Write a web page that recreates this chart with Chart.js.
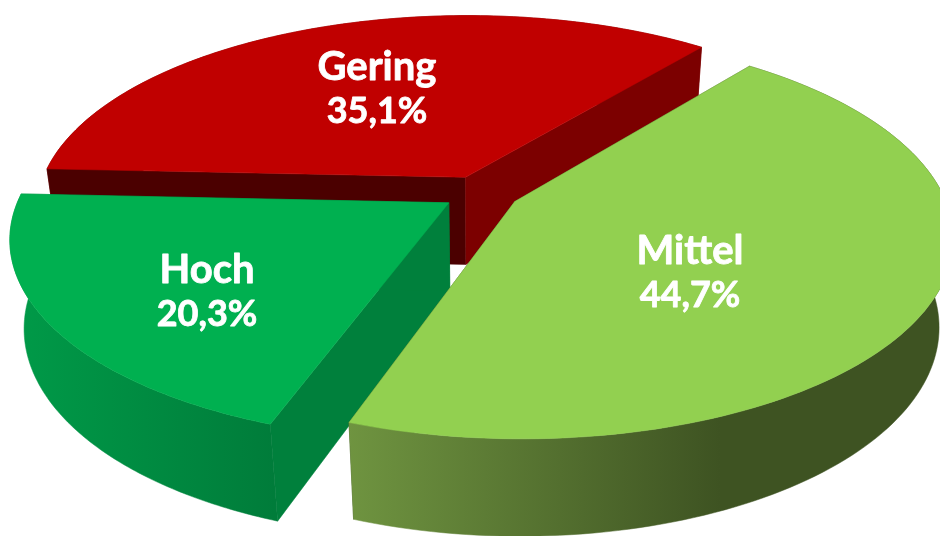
<!DOCTYPE html>
<html><head><meta charset="utf-8">
<style>html,body{margin:0;padding:0;background:#fff;overflow:hidden}canvas{display:block}</style>
<script src="https://cdn.jsdelivr.net/npm/chart.js@4"></script></head>
<body><canvas id="c" width="940" height="536"></canvas>
<script>
const categories = ['Gering', 'Mittel', 'Hoch'];
const shares = [35.1, 44.7, 20.3];

const topColors = ['#C00000', '#92D050', '#00B050'];
const startWallColors = ['#4B0000', '#3D5323', '#00803C'];
const endWallColors = ['#7C0000', '#3D5323', '#00803C'];
const outerWallStops = [
  [[0, '#7C0000'], [1, '#7C0000']],
  [[0, '#6F9440'], [1, '#3E5322']],
  [[0, '#009A48'], [1, '#007C3A']]
];
const outerWallSpan = [[48, 705], [348, 720], [15, 275]];
const paintOrder = [0, 2, 1];
const labelCentres = [[377, 89], [690, 273], [207, 292]];
const view = {cx: 481, cy: 193, R: 428, k: 194, depth: 90.5, p: 0.169, q: 0.03};

function project(el, angle, r, z) {
  const mid = (el.startAngle + el.endAngle) / 2;
  const off = (el.options.offset || 0) / el.outerRadius;
  const u = Math.cos(angle) * r + Math.cos(mid) * off;
  const v = Math.sin(angle) * r + Math.sin(mid) * off;
  const w = 1 - view.p * v + view.q * z;
  return [view.cx + view.R * u / w, view.cy + (view.k * v + view.depth * z) / w];
}
function polygon(ctx, pts, fill) {
  ctx.beginPath();
  pts.forEach((p, i) => i ? ctx.lineTo(p[0], p[1]) : ctx.moveTo(p[0], p[1]));
  ctx.closePath();
  ctx.fillStyle = fill;
  ctx.strokeStyle = fill;
  ctx.lineWidth = 0.5;
  ctx.fill();
  ctx.stroke();
}
function arcPts(el, z) {
  const pts = [], n = 120;
  for (let i = 0; i <= n; i++) {
    const a = el.startAngle + (el.endAngle - el.startAngle) * i / n;
    pts.push(project(el, a, 1, z));
  }
  return pts;
}
const pie3d = {
  id: 'pie3d',
  beforeDatasetDraw(chart, args) {
    const ctx = chart.ctx;
    const arcs = chart.getDatasetMeta(args.index).data;
    ctx.save();
    paintOrder.forEach(i => {
      const el = arcs[i];
      const top = arcPts(el, 0), bottom = arcPts(el, 1);
      const g = ctx.createLinearGradient(outerWallSpan[i][0], 0, outerWallSpan[i][1], 0);
      outerWallStops[i].forEach(s => g.addColorStop(s[0], s[1]));
      const a0 = project(el, 0, 0, 0), a1 = project(el, 0, 0, 1);
      const outer = () => polygon(ctx, top.concat(bottom.slice().reverse()), g);
      const facesBack = Math.sin((el.startAngle + el.endAngle) / 2) < 0;
      if (facesBack) outer();
      polygon(ctx, [a0, top[0], bottom[0], a1], startWallColors[i]);
      polygon(ctx, [a0, top[top.length - 1], bottom[bottom.length - 1], a1], endWallColors[i]);
      if (!facesBack) outer();
      polygon(ctx, [a0].concat(top), topColors[i]);
    });
    ctx.fillStyle = '#FFFFFF';
    ctx.strokeStyle = '#FFFFFF';
    ctx.lineWidth = 0.8;
    ctx.lineJoin = 'round';
    ctx.textAlign = 'center';
    ctx.textBaseline = 'middle';
    categories.forEach((name, i) => {
      const [x, y] = labelCentres[i];
      const pct = shares[i].toFixed(1).replace('.', ',') + '%';
      ctx.font = 'bold 40px Lato';
      ctx.fillText(name, x, y - 22);
      ctx.strokeText(name, x, y - 22);
      ctx.font = 'bold 36px Lato';
      ctx.fillText(pct, x, y + 22);
      ctx.strokeText(pct, x, y + 22);
    });
    ctx.restore();
    return false;
  }
};
new Chart(document.getElementById('c'), {
  type: 'pie',
  data: {labels: categories, datasets: [{data: shares, backgroundColor: topColors, borderWidth: 0, offset: 23}]},
  options: {
    responsive: false,
    animation: false,
    rotation: -87.4,
    layout: {padding: 0},
    plugins: {legend: {display: false}, tooltip: {enabled: false}, title: {display: false}}
  },
  plugins: [pie3d]
});
</script></body></html>
